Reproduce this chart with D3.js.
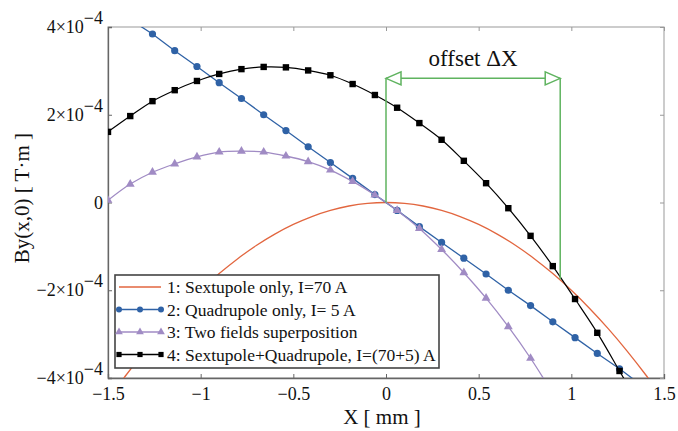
<!DOCTYPE html>
<html>
<head>
<meta charset="utf-8">
<script src="https://cdn.jsdelivr.net/npm/d3@7"></script>
<style>
body { margin: 0; background: #fff; }
text { font-family: "Liberation Serif", "Times New Roman", serif; fill: #111; }
</style>
</head>
<body>
<div id="chart"></div>
<script>
// values in units of 1e-4 T·m
var xGrid = [-1.5, -1.38, -1.26, -1.14, -1.02, -0.9, -0.78, -0.66, -0.54, -0.42, -0.3, -0.18, -0.06,
             0.06, 0.18, 0.3, 0.42, 0.54, 0.66, 0.78, 0.9, 1.02, 1.14, 1.26, 1.38, 1.5];
var quadVals = [4.53, 4.17, 3.84, 3.46, 3.10, 2.73, 2.37, 2.00, 1.64, 1.27, 0.91, 0.55, 0.18,
                -0.18, -0.55, -0.91, -1.27, -1.63, -2.00, -2.35, -2.72, -3.08, -3.44, -3.79, -4.17, -4.53];
var superVals = [0.05, 0.42, 0.69, 0.88, 1.04, 1.15, 1.17, 1.15, 1.06, 0.93, 0.74, 0.48, 0.17,
                 -0.18, -0.59, -1.07, -1.60, -2.18, -2.83, -3.55, -4.35];
var sqVals = [1.61, 1.97, 2.31, 2.56, 2.77, 2.93, 3.04, 3.09, 3.08, 3.01, 2.90, 2.70, 2.45,
              2.16, 1.81, 1.43, 0.95, 0.44, -0.13, -0.76, -1.45, -2.20, -2.97, -3.84, -4.72];
var sextX = [-1.5, -1.4, -1.3, -1.2, -1.1, -1.0, -0.9, -0.8, -0.7, -0.6, -0.5, -0.4, -0.3, -0.2, -0.1, 0,
             0.1, 0.2, 0.3, 0.4, 0.5, 0.6, 0.7, 0.8, 0.9, 1.0, 1.1, 1.2, 1.3, 1.4, 1.5];
var sextVals = [-4.50, -3.92, -3.38, -2.88, -2.42, -2.00, -1.62, -1.28, -0.98, -0.72, -0.50, -0.32, -0.18, -0.08, -0.02, 0,
                -0.02, -0.08, -0.18, -0.32, -0.50, -0.72, -0.98, -1.28, -1.62, -2.00, -2.42, -2.88, -3.38, -3.92, -4.50];
var xTicks = [-1.5, -1, -0.5, 0, 0.5, 1, 1.5];
var yTicks = [-4, -2, 0, 2, 4];
var yTickLabels = ["\u22124\u00d710", "\u22122\u00d710", "0", "2\u00d710", "4\u00d710"];
var legendLabels = ["1: Sextupole only, I=70 A", "2: Quadrupole only, I= 5 A",
                    "3: Two fields superposition", "4: Sextupole+Quadrupole, I=(70+5) A"];
var offsetX = [0, 0.94];   // where the annotation verticals stand
var offsetY = [0, -1.75];  // bottoms of the two verticals
var offsetTop = 2.83;

var width = 678, height = 431;
var margin = {top: 27, right: 14, bottom: 53, left: 108};

var svg = d3.select("#chart").append("svg")
    .attr("width", width)
    .attr("height", height);

var x = d3.scaleLinear().domain([-1.5, 1.5]).range([margin.left, width - margin.right]);
var y = d3.scaleLinear().domain([-4, 4]).range([height - margin.bottom, margin.top]);

svg.append("defs").append("clipPath").attr("id", "plotclip")
  .append("rect")
    .attr("x", x(-1.5)).attr("y", y(4))
    .attr("width", x(1.5) - x(-1.5)).attr("height", y(-4) - y(4));

// frame
svg.append("rect")
    .attr("x", x(-1.5)).attr("y", y(4))
    .attr("width", x(1.5) - x(-1.5)).attr("height", y(-4) - y(4))
    .attr("fill", "none").attr("stroke", "#999").attr("stroke-width", 1);

var axisColor = "#666";
function styleAxis(g) {
  g.select(".domain").attr("stroke", axisColor).attr("stroke-width", 1.3);
  g.selectAll(".tick line").attr("stroke", axisColor);
}

var bottomAxis = svg.append("g")
    .attr("transform", `translate(0, ${y(-4)})`)
    .call(d3.axisBottom(x).tickValues(xTicks).tickSize(-4).tickPadding(9)
      .tickFormat(d => d3.format("")(d)))
    .call(styleAxis);
bottomAxis.selectAll("text").attr("font-size", 18).attr("fill", "#111")
    .style("font-family", "'Liberation Serif', serif");

svg.append("g")
    .attr("transform", `translate(0, ${y(4)})`)
    .call(d3.axisTop(x).tickValues(xTicks).tickSize(-4).tickFormat(""))
    .call(g => { g.select(".domain").remove(); g.selectAll(".tick line").attr("stroke", "#999"); });

svg.append("g")
    .attr("transform", `translate(${x(1.5)}, 0)`)
    .call(d3.axisRight(y).tickValues(yTicks).tickSize(-4).tickFormat(""))
    .call(g => { g.select(".domain").remove(); g.selectAll(".tick line").attr("stroke", "#999"); });

var leftAxis = svg.append("g")
    .attr("transform", `translate(${x(-1.5)}, 0)`)
    .call(d3.axisLeft(y).tickValues(yTicks).tickSize(-4).tickFormat(""))
    .call(styleAxis);

// y tick labels with superscript exponent
yTicks.forEach(function(v, i) {
  var t = svg.append("text")
      .attr("x", x(-1.5) - 5)
      .attr("y", y(v) + 6)
      .attr("text-anchor", "end")
      .attr("font-size", 18);
  if (v === 0) {
    t.text(yTickLabels[i]);
  } else {
    t.append("tspan").text(yTickLabels[i]);
    t.append("tspan").attr("dy", -9).text("\u22124");
  }
});

// axis titles
svg.append("text")
    .attr("transform", `translate(29, ${y(0.1)}) rotate(-90)`)
    .attr("text-anchor", "middle")
    .attr("font-size", 21)
    .text("By(x,0) [ T\u00b7m ]");

svg.append("text")
    .attr("x", x(0) - 4)
    .attr("y", 424)
    .attr("text-anchor", "middle")
    .attr("font-size", 21)
    .text("X [ mm ]");

var plot = svg.append("g").attr("clip-path", "url(#plotclip)");

var colRed = "#e2663f", colBlue = "#2f62a6", colPurple = "#a08bc4", colBlack = "#000";

var line = d3.line().x(d => x(d[0])).y(d => y(d[1]));
var smooth = d3.line().x(d => x(d[0])).y(d => y(d[1])).curve(d3.curveCatmullRom);

var sextData = sextX.map((v, i) => [v, sextVals[i]]);
var quadData = xGrid.map((v, i) => [v, quadVals[i]]);
var superData = superVals.map((v, i) => [xGrid[i], v]);
var sqData = sqVals.map((v, i) => [xGrid[i], v]);

plot.append("path").datum(sextData).attr("d", smooth)
    .attr("fill", "none").attr("stroke", colRed).attr("stroke-width", 1.3);

plot.append("path").datum(quadData).attr("d", line)
    .attr("fill", "none").attr("stroke", colBlue).attr("stroke-width", 1.3);
plot.selectAll(".quad").data(quadData).enter().append("circle")
    .attr("cx", d => x(d[0])).attr("cy", d => y(d[1])).attr("r", 3.6)
    .attr("fill", colBlue);

plot.append("path").datum(superData).attr("d", smooth)
    .attr("fill", "none").attr("stroke", colPurple).attr("stroke-width", 1.3);
var tri = d3.symbol().type(d3.symbolTriangle).size(34);
plot.selectAll(".sup").data(superData).enter().append("path")
    .attr("d", tri)
    .attr("transform", d => `translate(${x(d[0])}, ${y(d[1])})`)
    .attr("fill", colPurple);

plot.append("path").datum(sqData).attr("d", smooth)
    .attr("fill", "none").attr("stroke", colBlack).attr("stroke-width", 1.2);
plot.selectAll(".sq").data(sqData).enter().append("rect")
    .attr("x", d => x(d[0]) - 3.2).attr("y", d => y(d[1]) - 3.2)
    .attr("width", 6.4).attr("height", 6.4)
    .attr("fill", colBlack);

// offset annotation
var green = "#5fb35f";
var ann = svg.append("g").attr("stroke", green).attr("stroke-width", 1.5).attr("fill", "none");
offsetX.forEach(function(v, i) {
  ann.append("line")
      .attr("x1", x(v)).attr("x2", x(v))
      .attr("y1", y(offsetTop)).attr("y2", y(offsetY[i]));
});
ann.append("line")
    .attr("x1", x(offsetX[0])).attr("x2", x(offsetX[1]))
    .attr("y1", y(offsetTop)).attr("y2", y(offsetTop));
var ay = y(offsetTop);
var lx = x(offsetX[0]), rx = x(offsetX[1]);
ann.append("path").attr("d", `M${lx},${ay} L${lx + 15},${ay - 6.5} L${lx + 15},${ay + 6.5} Z`).attr("fill", "#fff");
ann.append("path").attr("d", `M${rx},${ay} L${rx - 15},${ay - 6.5} L${rx - 15},${ay + 6.5} Z`).attr("fill", "#fff");

svg.append("text")
    .attr("x", (lx + rx) / 2)
    .attr("y", ay - 12)
    .attr("text-anchor", "middle")
    .attr("font-size", 23)
    .text("offset \u0394X");

// legend
var lg = svg.append("g").attr("transform", "translate(115, 275)");
lg.append("rect").attr("width", 324).attr("height", 93)
    .attr("fill", "#fff").attr("stroke", "#444").attr("stroke-width", 1.6);
var legColors = [colRed, colBlue, colPurple, colBlack];
legendLabels.forEach(function(label, i) {
  var ry = 12 + i * 22.5;
  var row = lg.append("g").attr("transform", `translate(0, ${ry})`);
  row.append("line").attr("x1", 4).attr("x2", 46).attr("y1", 0).attr("y2", 0)
      .attr("stroke", legColors[i]).attr("stroke-width", 1.3);
  [4, 25, 46].forEach(function(mx) {
    if (i === 1) row.append("circle").attr("cx", mx).attr("cy", 0).attr("r", 3).attr("fill", colBlue);
    if (i === 2) row.append("path").attr("d", d3.symbol().type(d3.symbolTriangle).size(26))
        .attr("transform", `translate(${mx}, 0)`).attr("fill", colPurple);
    if (i === 3) row.append("rect").attr("x", mx - 2.6).attr("y", -2.6).attr("width", 5.2).attr("height", 5.2).attr("fill", colBlack);
  });
  row.append("text").attr("x", 52).attr("y", 6).attr("font-size", 17.5).text(label);
});
</script>
</body>
</html>
